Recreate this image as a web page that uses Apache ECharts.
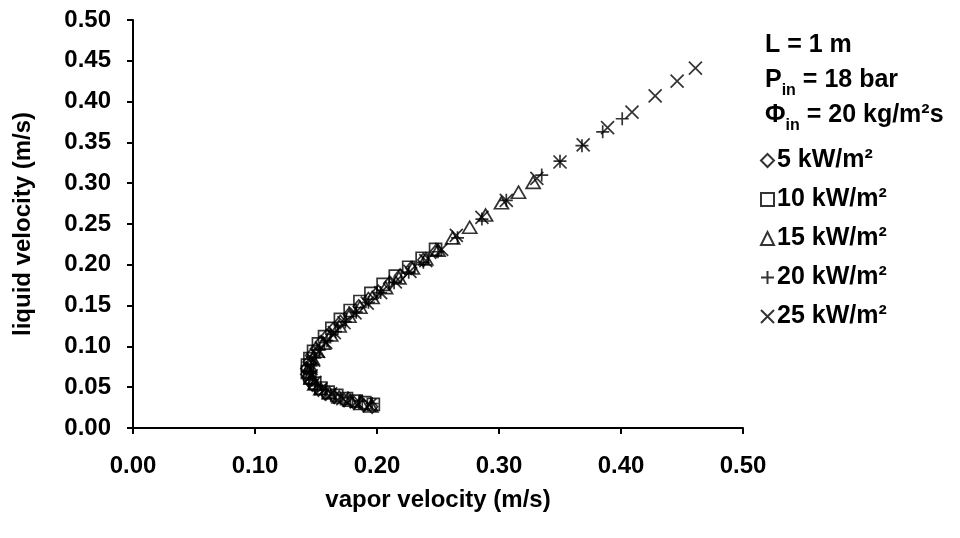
<!DOCTYPE html>
<html><head><meta charset="utf-8">
<script src="https://cdn.jsdelivr.net/npm/echarts@6/dist/echarts.min.js"></script>
<style>html,body{margin:0;padding:0;background:#fff}#c{width:960px;height:538px}</style>
</head><body><div id="c"></div>
<script>
const seriesNames = ['5 kW/m²', '10 kW/m²', '15 kW/m²', '20 kW/m²', '25 kW/m²'];
const xTicks = ['0.00','0.10','0.20','0.30','0.40','0.50'];
const yTicks = ['0.00','0.05','0.10','0.15','0.20','0.25','0.30','0.35','0.40','0.45','0.50'];
const infoLines = ['L = 1 m', 'P_in = 18 bar', 'Φ_in = 20 kg/m²s'];

const q5 = [[0.196,0.026],[0.189,0.028],[0.181,0.031],[0.173,0.034],[0.165,0.038],[0.158,0.042],[0.152,0.047],[0.147,0.053],[0.144,0.059],[0.142,0.066],[0.142,0.073],[0.144,0.081],[0.146,0.089],[0.150,0.097],[0.154,0.105],[0.159,0.113],[0.164,0.121],[0.170,0.130],[0.177,0.139],[0.185,0.149],[0.193,0.158],[0.201,0.167],[0.210,0.177],[0.219,0.187],[0.228,0.196],[0.238,0.206],[0.248,0.216]];
const q10 = [[0.197,0.029],[0.190,0.031],[0.183,0.033],[0.175,0.036],[0.167,0.040],[0.160,0.044],[0.154,0.049],[0.149,0.055],[0.145,0.062],[0.143,0.069],[0.143,0.077],[0.145,0.085],[0.148,0.094],[0.152,0.103],[0.157,0.112],[0.163,0.122],[0.170,0.133],[0.178,0.144],[0.186,0.155],[0.195,0.165],[0.205,0.176],[0.215,0.186],[0.226,0.197],[0.237,0.208],[0.248,0.219]];
const q15 = [[0.195,0.027],[0.187,0.030],[0.178,0.034],[0.169,0.038],[0.161,0.043],[0.154,0.048],[0.149,0.054],[0.146,0.061],[0.144,0.068],[0.145,0.076],[0.147,0.085],[0.151,0.094],[0.156,0.104],[0.162,0.114],[0.169,0.125],[0.177,0.137],[0.186,0.148],[0.196,0.160],[0.207,0.172],[0.218,0.184],[0.229,0.196],[0.240,0.207],[0.250,0.218],[0.262,0.233],[0.276,0.246],[0.289,0.261],[0.302,0.276],[0.316,0.289],[0.328,0.301]];
const q20 = [[0.196,0.030],[0.186,0.033],[0.176,0.037],[0.166,0.041],[0.158,0.046],[0.151,0.052],[0.147,0.059],[0.145,0.067],[0.146,0.076],[0.149,0.086],[0.153,0.096],[0.159,0.107],[0.166,0.118],[0.174,0.130],[0.183,0.142],[0.193,0.154],[0.203,0.166],[0.214,0.178],[0.226,0.191],[0.238,0.203],[0.250,0.216],[0.266,0.233],[0.286,0.256],[0.306,0.279],[0.335,0.310],[0.350,0.327],[0.368,0.346],[0.385,0.363],[0.401,0.379]];
const q25 = [[0.194,0.028],[0.183,0.032],[0.172,0.036],[0.162,0.042],[0.154,0.048],[0.149,0.056],[0.146,0.064],[0.146,0.073],[0.148,0.083],[0.152,0.094],[0.158,0.105],[0.165,0.117],[0.173,0.129],[0.182,0.141],[0.192,0.153],[0.203,0.166],[0.215,0.179],[0.227,0.192],[0.240,0.205],[0.253,0.219],[0.265,0.236],[0.286,0.258],[0.306,0.279],[0.331,0.306],[0.350,0.326],[0.369,0.347],[0.389,0.368],[0.409,0.387],[0.428,0.407],[0.446,0.425],[0.461,0.441]];

const allData = [q5, q10, q15, q20, q25];
const symbols = ['diamond', 'rect', 'triangle', 'path://M5,0L5,10M0,5L10,5', 'path://M0,0L10,10M10,0L0,10'];
const sizes = [[11,13], [12,12], [14,12], [13,13], [13,13]];
const FONT = 'Liberation Sans, Arial, sans-serif';
const FS = 24;
const FL = 25;

const chart = echarts.init(document.getElementById('c'), null, {renderer: 'canvas'});
const series = allData.map((d, i) => ({
  name: seriesNames[i],
  type: 'scatter',
  data: d,
  symbol: symbols[i],
  symbolSize: sizes[i],
  symbolKeepAspect: true,
  itemStyle: {color: 'rgba(255,255,255,0)', borderColor: '#000', borderWidth: 1.7},
  emphasis: {disabled: true},
  z: 2
}));

function sub(s) {
  const m = s.match(/^(.)_in(.*)$/);
  return m ? '{b|' + m[1] + '}{s|in}{b|' + m[2] + '}' : '{b|' + s + '}';
}

chart.setOption({
  animation: false,
  backgroundColor: '#fff',
  grid: {left: 133, right: 217, top: 20, bottom: 110},
  xAxis: {
    type: 'value', min: 0, max: 0.5, interval: 0.1,
    name: 'vapor velocity (m/s)', nameLocation: 'middle', nameGap: 60,
    nameTextStyle: {fontFamily: FONT, fontWeight: 'bold', fontSize: FS, color: '#000'},
    axisLine: {show: true, onZero: false, lineStyle: {color: '#000', width: 2}},
    axisTick: {show: true, inside: false, length: 6, lineStyle: {color: '#000', width: 2}},
    axisLabel: {margin: 26, fontFamily: FONT, fontWeight: 'bold', fontSize: FS, color: '#000',
      formatter: v => xTicks[Math.round(v * 10)]},
    splitLine: {show: false}
  },
  yAxis: {
    type: 'value', min: 0, max: 0.5, interval: 0.05,
    name: 'liquid velocity (m/s)', nameLocation: 'middle', nameGap: 98, nameRotate: 90,
    nameTextStyle: {fontFamily: FONT, fontWeight: 'bold', fontSize: FS, color: '#000'},
    axisLine: {show: true, onZero: false, lineStyle: {color: '#000', width: 2}},
    axisTick: {show: true, inside: false, length: 6, lineStyle: {color: '#000', width: 2}},
    axisLabel: {margin: 22, fontFamily: FONT, fontWeight: 'bold', fontSize: FS, color: '#000',
      formatter: v => yTicks[Math.round(v * 20)]},
    splitLine: {show: false}
  },
  legend: {
    orient: 'vertical', left: 755, top: 142, itemGap: 12, itemWidth: 13, itemHeight: 13,
    textStyle: {fontFamily: FONT, fontWeight: 'bold', fontSize: FL, lineHeight: 27, color: '#000', padding: [0,0,0,-2]},
    data: seriesNames
  },
  graphic: infoLines.map((t, i) => ({
    type: 'text', left: 765, top: 33 + i * 35,
    style: {
      text: sub(t),
      rich: {
        b: {fontFamily: FONT, fontWeight: 'bold', fontSize: FL, fill: '#000', verticalAlign: 'bottom'},
        s: {fontFamily: FONT, fontWeight: 'bold', fontSize: 16, fill: '#000', verticalAlign: 'bottom', padding: [0,0,-6,0]}
      }
    }
  })),
  series: series
});
</script></body></html>
